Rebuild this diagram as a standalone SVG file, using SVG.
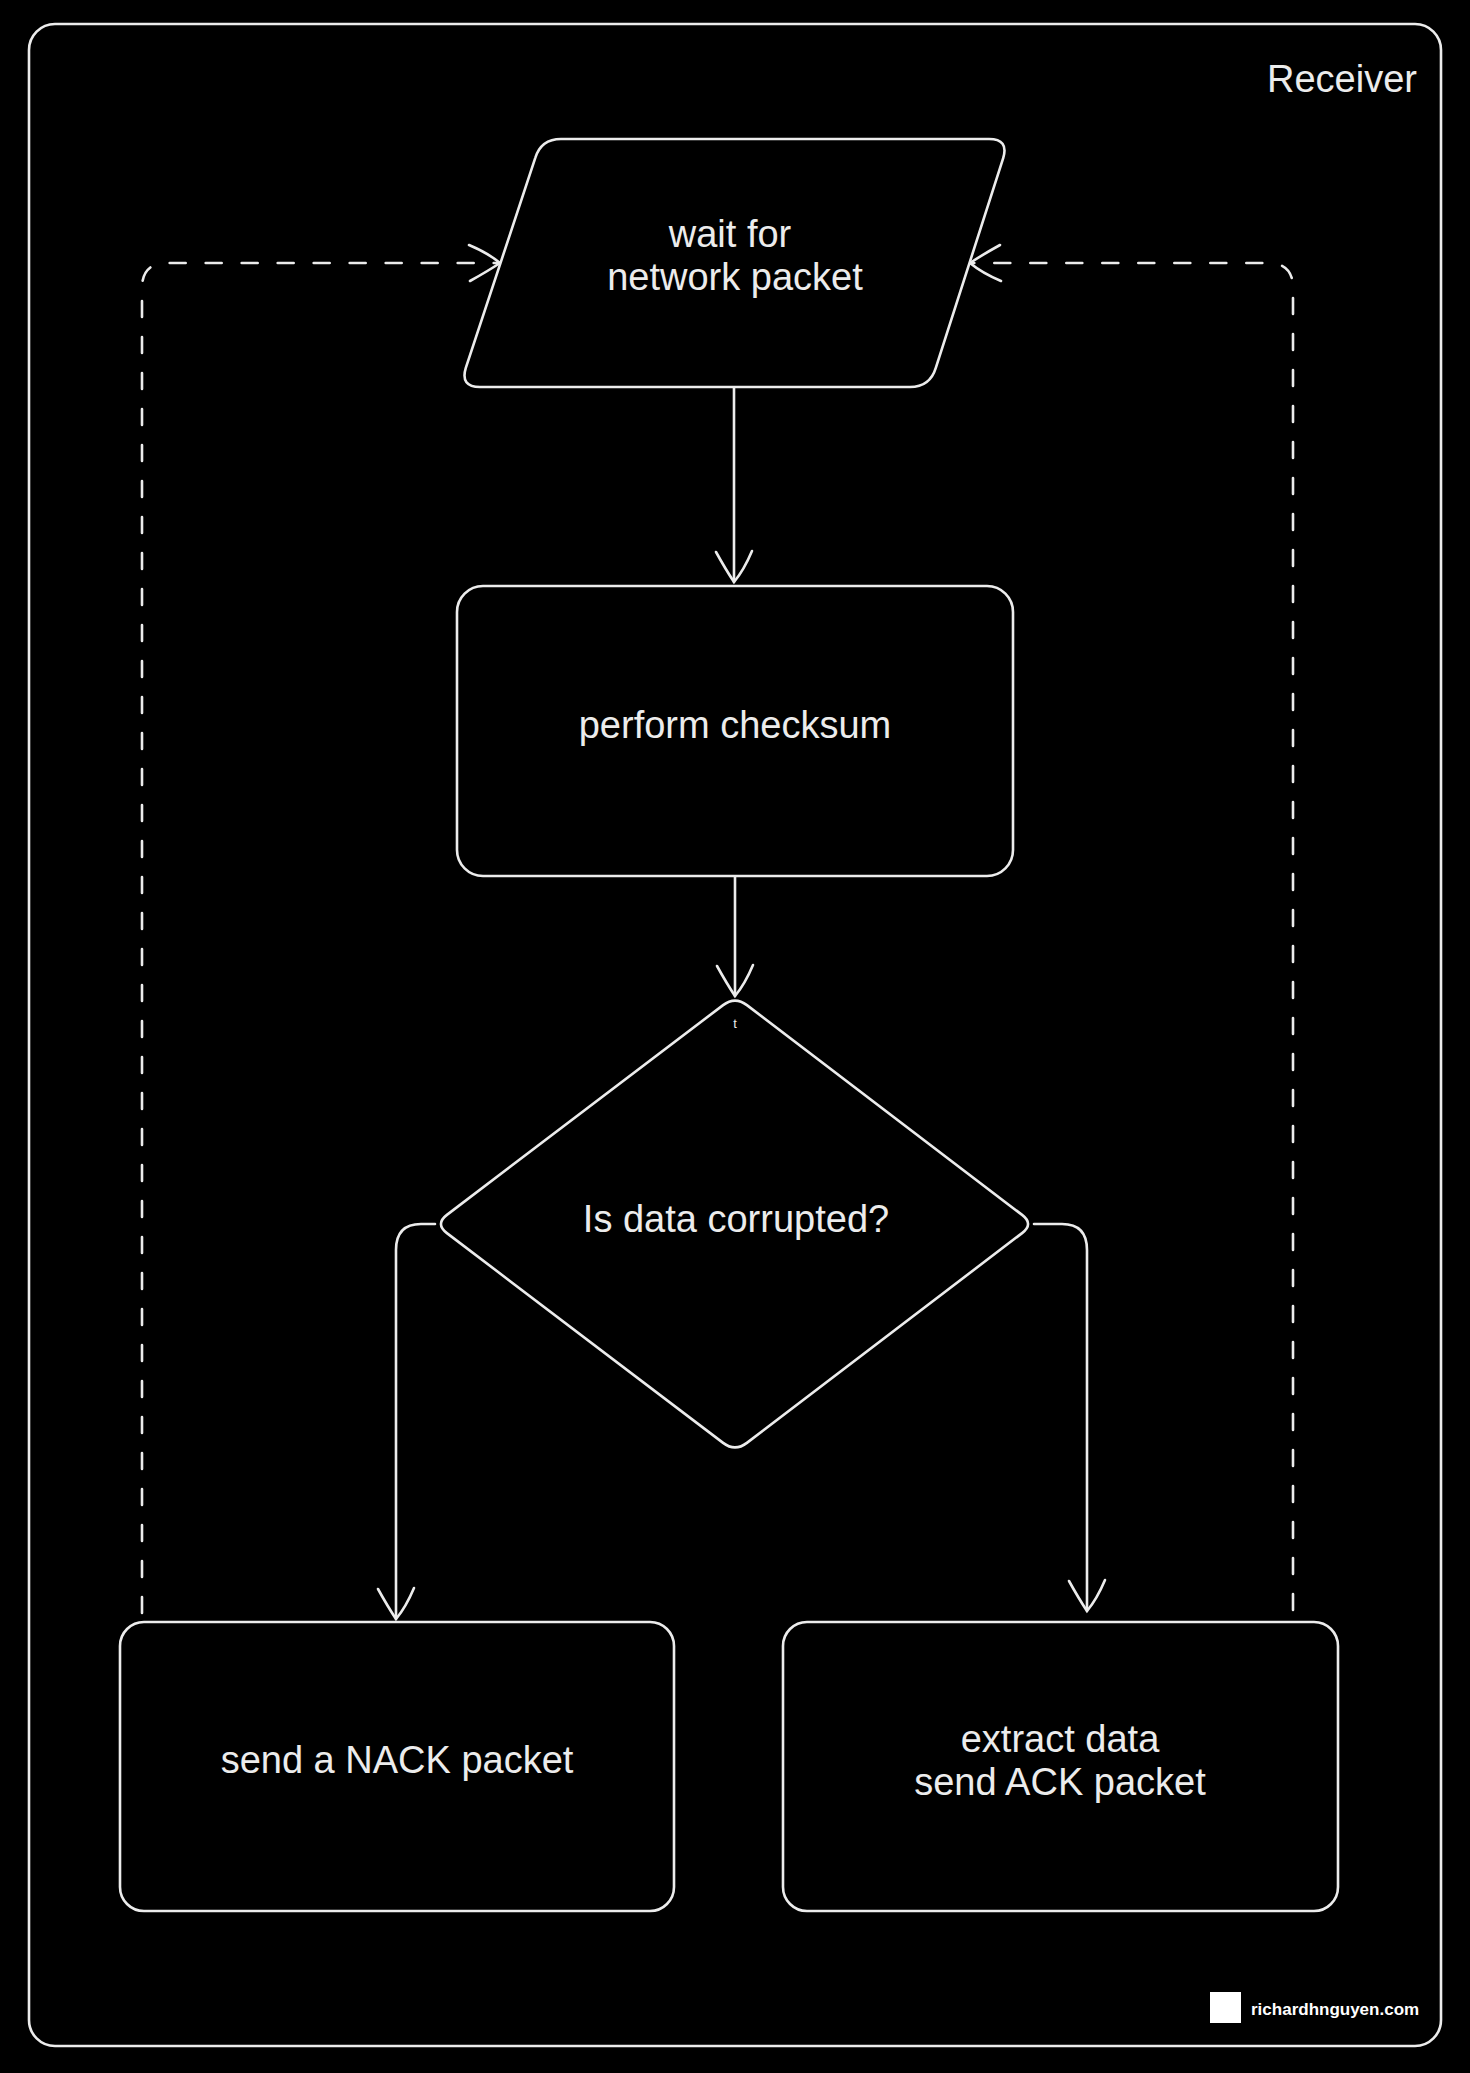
<svg xmlns="http://www.w3.org/2000/svg" width="1470" height="2073" viewBox="0 0 1470 2073">
<style>
.s{fill:none;stroke:#ececec;stroke-width:2.6;stroke-linecap:round;stroke-linejoin:round}
.n{fill:#000;stroke:#ececec;stroke-width:2.6;stroke-linejoin:round}
.t{fill:#ececec;font-family:"Liberation Sans",Arial,sans-serif;font-size:38px;text-anchor:middle}
.d{stroke-dasharray:16 20}
</style>
<defs>
<marker id="ah" markerUnits="userSpaceOnUse" markerWidth="40" markerHeight="40" viewBox="-35 -20 40 40" refX="0" refY="0" orient="auto" overflow="visible">
<path d="M -31,-18 Q -12,-10 0,0 Q -12,8 -30,18" fill="none" stroke="#ececec" stroke-width="2.6" stroke-linecap="round"/>
</marker>
</defs>
<rect width="1470" height="2073" fill="#000"/>
<g id="frame">
<rect x="29" y="24" width="1412" height="2022" rx="26" class="s"/>
<text x="1417" y="92" class="t" style="text-anchor:end">Receiver</text>
</g>
<g id="connectors">
<path class="s" d="M734,387 L734,582" marker-end="url(#ah)"/>
<path class="s" d="M735,876 L735,996" marker-end="url(#ah)"/>
<path class="s" d="M435,1224 L421,1224 Q396,1224 396,1250 L396,1619" marker-end="url(#ah)"/>
<path class="s" d="M1034,1224 L1062,1224 Q1087,1224 1087,1250 L1087,1611" marker-end="url(#ah)"/>
<path class="s d" d="M142,1613 L142,288 Q142,263 167,263 L500,263" marker-end="url(#ah)"/>
<path class="s d" d="M1293,1610 L1293,288 Q1293,263 1268,263 L970,263" marker-end="url(#ah)"/>
</g>
<g id="wait">
<path class="n" d="M561,139 L989,139 Q1009,139 1003.2,158.1 L935.8,367.9 Q930,387 910,387 L480,387 Q460,387 465.8,367.9 L535.2,158.1 Q541,139 561,139 Z"/>
<text x="730" y="247" class="t">wait for</text>
<text x="735" y="290" class="t">network packet</text>
</g>
<g id="checksum">
<rect x="457" y="586" width="556" height="290" rx="26" class="n"/>
<text x="735" y="738" class="t">perform checksum</text>
</g>
<g id="decision">
<path class="n" d="M723.1,1005.1 Q735,996 746.9,1005.1 L1022.1,1214.9 Q1034,1224 1022.1,1233.1 L746.9,1442.9 Q735,1452 723.1,1442.9 L446.9,1233.1 Q435,1224 446.9,1214.9 Z"/>
<text x="735" y="1028" style="fill:#ececec;font-family:'Liberation Sans',Arial,sans-serif;font-size:13px;text-anchor:middle">t</text>
<text x="736" y="1232" class="t">Is data corrupted?</text>
</g>
<g id="nack">
<rect x="120" y="1622" width="554" height="289" rx="24" class="n"/>
<text x="397" y="1773" class="t">send a NACK packet</text>
</g>
<g id="ack">
<rect x="783" y="1622" width="555" height="289" rx="24" class="n"/>
<text x="1060" y="1752" class="t">extract data</text>
<text x="1060" y="1795" class="t">send ACK packet</text>
</g>
<g id="watermark">
<rect x="1210" y="1992" width="31" height="31" fill="#fff"/>
<text x="1251" y="2015" style="fill:#fff;font-family:'Liberation Sans',Arial,sans-serif;font-size:17px;font-weight:bold">richardhnguyen.com</text>
</g>
</svg>
